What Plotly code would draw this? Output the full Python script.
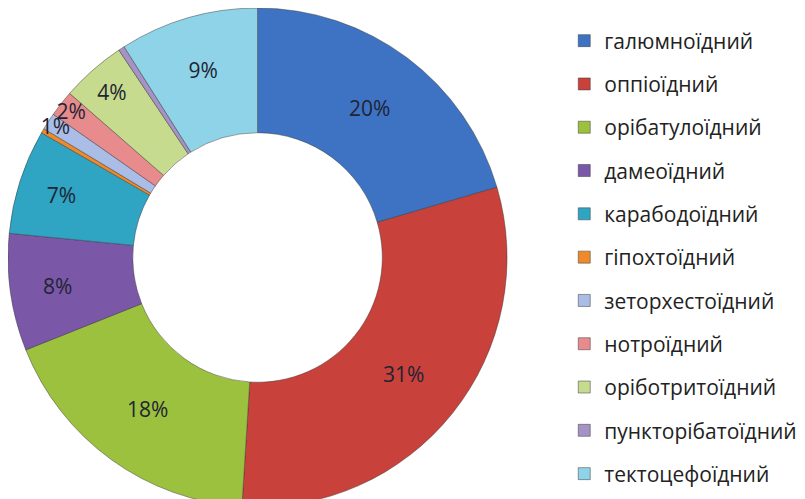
import plotly.graph_objects as go

# categories in drawing order (clockwise from 12 o'clock)
groups = [
    "галюмноїдний",
    "оппіоїдний",
    "орібатулоїдний",
    "дамеоїдний",
    "карабодоїдний",
    "гіпохтоїдний",
    "зеторхестоїдний",
    "нотроїдний",
    "оріботритоїдний",
    "пункторібатоїдний",
    "тектоцефоїдний",
]
shares = [20.5, 30.6, 18.0, 7.6, 6.8, 0.3, 1.1, 1.7, 4.2, 0.4, 9.0]
# tiny slices carry no label on the chart
show_label = [True, True, True, True, True, False, True, True, True, False, True]

colors = [
    "#3E73C4", "#C9413B", "#9CC13F", "#7B57A8", "#2FA5C3", "#EE8A2A",
    "#A9BDE6", "#E78B8C", "#C6DB8E", "#A693C6", "#8ED3E7",
]

fig = go.Figure()

fig.add_trace(
    go.Pie(
        labels=groups,
        values=shares,
        hole=0.5,
        sort=False,
        direction="clockwise",
        rotation=0,
        marker=dict(colors=colors, line=dict(color="rgba(50,50,50,0.45)", width=1)),
        texttemplate=["%{percent:.0%}" if s else "" for s in show_label],
        textposition="inside",
        insidetextorientation="horizontal",
        textfont=dict(family="Open Sans", size=21, color="#1f2433"),
        showlegend=False,
        domain=dict(x=[0.0, 0.62], y=[0.0, 1.0]),
    )
)

# legend entries as separate groups so the rows can be spaced out
for name, c in zip(groups, colors):
    fig.add_trace(
        go.Scatter(
            x=[None], y=[None],
            mode="markers",
            name=name,
            legendgroup=name,
            marker=dict(symbol="square", size=12, color=c,
                        line=dict(color="rgba(60,60,60,0.5)", width=1)),
        )
    )

fig.update_layout(
    width=805,
    height=499,
    margin=dict(l=0, r=0, t=0, b=0, autoexpand=False),
    paper_bgcolor="white",
    plot_bgcolor="white",
    xaxis=dict(visible=False),
    yaxis=dict(visible=False),
    uniformtext=dict(minsize=21, mode="show"),
    legend=dict(
        x=0.691, y=0.975, xanchor="left", yanchor="top",
        traceorder="grouped",
        tracegroupgap=13,
        font=dict(family="Open Sans", size=21, color="#222222"),
        itemwidth=30,
    ),
)

fig.write_html("out.html")
